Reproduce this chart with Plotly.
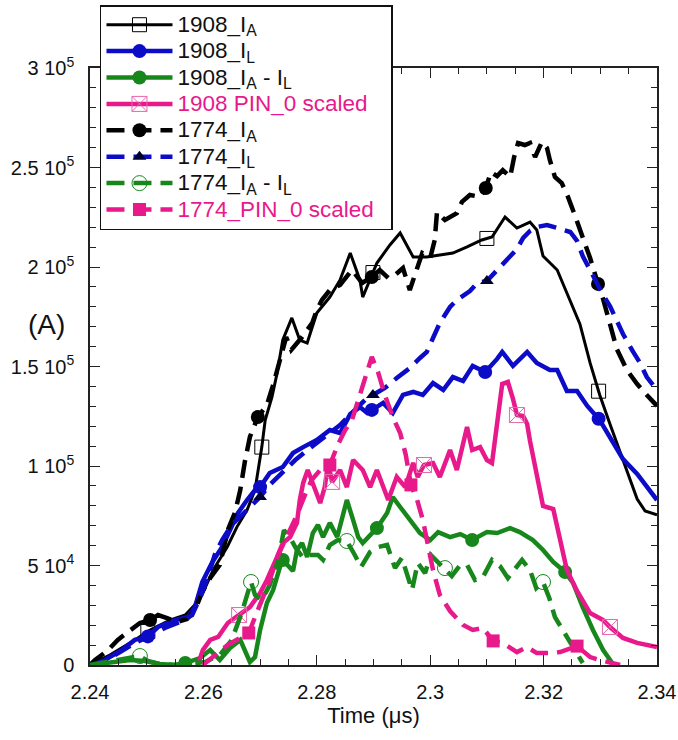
import numpy as np
import plotly.graph_objects as go

# ---------------- data (time in microseconds, current in kA) ----------------
t_ia_1908 = [2.2400, 2.2435, 2.2471, 2.2506, 2.2541, 2.2568, 2.2585, 2.2599, 2.2617, 2.2642,
             2.2659, 2.2677, 2.2691, 2.2696, 2.2703, 2.2709, 2.2721, 2.2730, 2.2740, 2.2756,
             2.2770, 2.2783, 2.2800, 2.2823, 2.2841, 2.2859, 2.2876, 2.2881, 2.2906, 2.2929,
             2.2947, 2.2970, 2.2994, 2.3017, 2.3040, 2.3065, 2.3091, 2.3109, 2.3132, 2.3153,
             2.3176, 2.3188, 2.3199, 2.3224, 2.3247, 2.3264, 2.3282, 2.3299, 2.3317, 2.3340,
             2.3365, 2.3379, 2.3400]
ia_1908 = [0, 5.0, 11.1, 17.6, 22.6, 25.1, 30.2, 36.2, 47.7, 59.3,
           69.3, 77.9, 87.9, 96.5, 109.5, 123.1, 134.7, 146.7, 163.3, 174.4,
           163.3, 161.8, 176.9, 184.9, 193.5, 207.0, 193.5, 184.9, 202.0, 211.1,
           217.1, 205.0, 205.0, 206.0, 207.0, 210.1, 213.6, 215.1, 225.1, 219.6,
           222.6, 218.6, 205.5, 198.5, 182.4, 171.4, 151.8, 135.7, 121.1, 103.5,
           83.4, 77.4, 75.4]

t_il_1908 = [2.2400, 2.2426, 2.2456, 2.2479, 2.2501, 2.2520, 2.2550, 2.2573, 2.2585, 2.2598,
             2.2615, 2.2633, 2.2647, 2.2661, 2.2677, 2.2691, 2.2700, 2.2717, 2.2740, 2.2758,
             2.2776, 2.2800, 2.2823, 2.2841, 2.2859, 2.2876, 2.2889, 2.2899, 2.2917, 2.2934,
             2.2952, 2.2970, 2.2987, 2.3005, 2.3023, 2.3040, 2.3058, 2.3075, 2.3097, 2.3118,
             2.3127, 2.3146, 2.3171, 2.3188, 2.3211, 2.3224, 2.3241, 2.3259, 2.3277, 2.3299,
             2.3321, 2.3340, 2.3365, 2.3400]
il_1908 = [0, 2.5, 7.5, 12.6, 14.1, 19.1, 22.6, 24.1, 29.1, 41.7,
           51.3, 59.3, 67.8, 76.4, 82.9, 87.9, 89.4, 96.5, 99.5, 106.5,
           109.5, 113.1, 118.1, 116.6, 126.1, 129.6, 126.6, 128.6, 131.7, 126.6,
           135.7, 137.2, 135.7, 141.7, 138.2, 144.7, 142.7, 150.3, 147.2, 153.8,
           157.3, 150.3, 157.3, 151.8, 148.2, 148.2, 137.7, 137.7, 130.2, 123.1,
           112.6, 103.5, 96.0, 82.9]

t_diff_1908 = [2.2400, 2.2435, 2.2471, 2.2497, 2.2523, 2.2550, 2.2568, 2.2594, 2.2612, 2.2629,
               2.2647, 2.2665, 2.2682, 2.2691, 2.2700, 2.2712, 2.2723, 2.2735, 2.2740, 2.2758,
               2.2765, 2.2774, 2.2783, 2.2793, 2.2802, 2.2811, 2.2823, 2.2836, 2.2853, 2.2864,
               2.2873, 2.2881, 2.2894, 2.2906, 2.2924, 2.2934, 2.2947, 2.2964, 2.2982, 2.3000,
               2.3014, 2.3035, 2.3053, 2.3074, 2.3100, 2.3118, 2.3141, 2.3158, 2.3181, 2.3199,
               2.3217, 2.3238, 2.3252, 2.3269, 2.3287, 2.3305, 2.3321]
diff_1908 = [0, 1.0, 2.5, 2.0, 0.5, 0, 1.0, 3.5, 7.5, 2.5,
             8.5, 12.6, 1.5, 4.0, 17.6, 31.2, 37.7, 49.2, 52.8, 47.2,
             57.8, 61.3, 54.3, 66.3, 70.4, 64.3, 71.4, 64.3, 82.9, 72.9,
             64.3, 61.3, 65.3, 68.8, 76.4, 84.4, 79.4, 72.9, 66.3, 62.8,
             66.8, 64.3, 65.8, 62.8, 66.8, 66.3, 68.8, 66.8, 62.8, 57.8,
             51.8, 46.7, 41.2, 29.1, 17.6, 7.5, 1.0]

t_pin_1908 = [2.2590, 2.2599, 2.2612, 2.2626, 2.2643, 2.2663, 2.2682, 2.2700, 2.2712, 2.2730,
              2.2740, 2.2753, 2.2765, 2.2770, 2.2776, 2.2784, 2.2797, 2.2806, 2.2814, 2.2820,
              2.2827, 2.2841, 2.2853, 2.2864, 2.2881, 2.2894, 2.2906, 2.2917, 2.2926, 2.2941,
              2.2956, 2.2970, 2.2978, 2.2989, 2.3005, 2.3017, 2.3035, 2.3047, 2.3065, 2.3074,
              2.3088, 2.3100, 2.3109, 2.3127, 2.3137, 2.3146, 2.3153, 2.3164, 2.3171, 2.3176,
              2.3188, 2.3199, 2.3217, 2.3229, 2.3241, 2.3259, 2.3282, 2.3305, 2.3317, 2.3340,
              2.3365, 2.3400]
pin_1908 = [0, 7.5, 12.6, 14.1, 21.1, 25.1, 29.1, 36.2, 42.7, 54.3,
            61.3, 64.3, 71.4, 82.9, 91.5, 98.0, 87.9, 81.4, 89.4, 101.5,
            92.0, 98.0, 89.4, 103.0, 98.0, 89.4, 98.0, 89.4, 82.9, 94.5,
            89.4, 101.5, 94.5, 100.5, 101.5, 94.5, 108.0, 98.0, 119.6, 108.0,
            109.5, 103.0, 101.5, 141.2, 142.2, 133.7, 125.6, 125.1, 121.1, 112.6,
            94.5, 79.9, 78.4, 63.8, 47.7, 37.2, 26.1, 22.6, 19.1, 13.6,
            11.1, 9.0]

t_ia_1774 = [2.2400, 2.2409, 2.2432, 2.2449, 2.2467, 2.2488, 2.2506, 2.2520, 2.2536, 2.2553,
             2.2571, 2.2585, 2.2598, 2.2612, 2.2629, 2.2643, 2.2656, 2.2665, 2.2673, 2.2682,
             2.2696, 2.2712, 2.2723, 2.2735, 2.2746, 2.2755, 2.2763, 2.2774, 2.2792, 2.2800,
             2.2809, 2.2823, 2.2841, 2.2862, 2.2880, 2.2897, 2.2911, 2.2926, 2.2938, 2.2952,
             2.2964, 2.2977, 2.2986, 2.3000, 2.3008, 2.3012, 2.3026, 2.3047, 2.3056, 2.3070,
             2.3088, 2.3098, 2.3107, 2.3118, 2.3128, 2.3141, 2.3148, 2.3155, 2.3167, 2.3176,
             2.3185, 2.3197, 2.3206, 2.3211, 2.3220, 2.3232, 2.3243, 2.3255, 2.3269, 2.3282,
             2.3296, 2.3305, 2.3317, 2.3329, 2.3347, 2.3365, 2.3382, 2.3400]
ia_1774 = [0, 2.5, 7.5, 12.6, 16.6, 21.1, 22.6, 25.1, 23.6, 21.6,
           23.1, 27.6, 36.7, 43.7, 50.3, 67.8, 76.9, 87.9, 102.0, 114.6,
           124.6, 130.7, 140.7, 153.3, 164.8, 158.3, 160.8, 164.8, 171.9, 178.4,
           183.4, 188.4, 191.0, 198.5, 192.0, 195.0, 198.5, 194.5, 196.0, 199.5,
           188.4, 200.0, 207.0, 204.5, 213.6, 227.6, 223.6, 227.1, 232.7, 236.2,
           235.2, 239.7, 247.7, 245.7, 248.7, 245.2, 255.3, 262.3, 261.3, 262.3,
           255.3, 262.8, 259.8, 253.8, 245.2, 242.2, 235.2, 226.1, 215.1, 204.5,
           191.5, 183.9, 171.4, 158.8, 148.2, 141.2, 135.7, 130.2]

t_il_1774 = [2.2400, 2.2426, 2.2453, 2.2479, 2.2506, 2.2532, 2.2559, 2.2580, 2.2594, 2.2608,
             2.2620, 2.2633, 2.2650, 2.2668, 2.2686, 2.2700, 2.2717, 2.2740, 2.2762, 2.2788,
             2.2814, 2.2841, 2.2867, 2.2885, 2.2899, 2.2920, 2.2941, 2.2964, 2.2982, 2.2994,
             2.3005, 2.3017, 2.3035, 2.3047, 2.3070, 2.3083, 2.3100, 2.3118, 2.3128, 2.3141,
             2.3153, 2.3164, 2.3176, 2.3188, 2.3206, 2.3224, 2.3247, 2.3259, 2.3269, 2.3282,
             2.3294, 2.3305, 2.3317, 2.3329, 2.3340, 2.3358, 2.3370, 2.3382, 2.3400]
il_1774 = [0, 2.0, 6.5, 11.1, 14.6, 18.6, 21.6, 25.1, 33.7, 44.2,
           55.3, 62.8, 70.4, 75.4, 80.4, 84.4, 90.5, 97.0, 103.0, 109.0,
           114.6, 120.6, 128.1, 133.2, 135.7, 139.2, 144.2, 149.2, 154.3, 157.3,
           164.3, 171.9, 179.9, 183.4, 187.9, 192.0, 193.0, 198.5, 202.0, 205.5,
           209.0, 214.6, 218.1, 220.1, 221.1, 219.6, 217.6, 213.1, 205.5, 198.5,
           191.5, 185.9, 180.4, 173.4, 166.3, 157.3, 151.8, 144.7, 138.2]

t_diff_1774 = [2.2400, 2.2426, 2.2453, 2.2474, 2.2488, 2.2502, 2.2523, 2.2550, 2.2576, 2.2603,
               2.2629, 2.2650, 2.2668, 2.2684, 2.2691, 2.2703, 2.2717, 2.2732, 2.2742, 2.2753,
               2.2763, 2.2776, 2.2788, 2.2802, 2.2811, 2.2823, 2.2837, 2.2853, 2.2867, 2.2878,
               2.2894, 2.2908, 2.2924, 2.2938, 2.2950, 2.2961, 2.2968, 2.2978, 2.2991, 2.3001,
               2.3014, 2.3026, 2.3038, 2.3053, 2.3065, 2.3079, 2.3093, 2.3109, 2.3123, 2.3137,
               2.3148, 2.3162, 2.3176, 2.3187, 2.3199, 2.3210, 2.3220, 2.3232, 2.3245, 2.3259,
               2.3269]
diff_1774 = [0, 1.5, 2.5, 4.0, 4.5, 2.0, 0.5, 0, 0.5, 1.5,
             5.0, 12.6, 26.6, 41.7, 35.2, 32.7, 40.2, 52.8, 67.8, 63.8,
             58.8, 53.8, 55.3, 55.3, 52.8, 60.3, 62.8, 62.3, 55.3, 49.2,
             56.8, 59.3, 60.3, 48.7, 53.8, 43.7, 37.7, 51.3, 46.2, 55.3,
             51.8, 48.7, 44.7, 50.3, 50.3, 42.7, 44.2, 52.8, 49.7, 43.7,
             47.7, 52.8, 47.7, 38.7, 41.7, 33.7, 24.1, 18.6, 12.6, 5.5,
             1.0]

t_pin_1774 = [2.2599, 2.2620, 2.2643, 2.2665, 2.2680, 2.2696, 2.2714, 2.2732, 2.2749, 2.2765,
              2.2779, 2.2791, 2.2806, 2.2823, 2.2837, 2.2850, 2.2862, 2.2876, 2.2887, 2.2897,
              2.2908, 2.2920, 2.2934, 2.2947, 2.2957, 2.2966, 2.2977, 2.2987, 2.2996, 2.3005,
              2.3017, 2.3035, 2.3058, 2.3075, 2.3093, 2.3111, 2.3128, 2.3153, 2.3171, 2.3188,
              2.3211, 2.3229, 2.3259, 2.3282, 2.3299, 2.3322, 2.3335]
pin_1774 = [0, 5.0, 10.1, 13.6, 16.1, 27.6, 40.2, 55.3, 65.3, 75.4,
            85.4, 93.0, 98.0, 100.5, 110.6, 118.1, 123.1, 135.7, 145.7, 154.8,
            147.2, 135.7, 124.6, 116.6, 105.5, 90.5, 82.9, 72.9, 60.3, 47.7,
            35.2, 27.1, 20.1, 17.6, 18.6, 12.1, 11.1, 6.5, 9.0, 6.0,
            6.0, 6.5, 9.5, 4.0, 2.5, 1.0, 0]

# times at which symbols sit on each curve
marks_ia_1908 = [2.2502, 2.2703, 2.2899, 2.3100, 2.3297]
marks_il_1908 = [2.2502, 2.2700, 2.2897, 2.3097, 2.3297]
marks_diff_1908 = [2.2568, 2.2740, 2.2906, 2.3074, 2.3238]
marks_pin_1908 = [2.2663, 2.2827, 2.2989, 2.3153, 2.3317]
marks_ia_1774 = [2.2506, 2.2696, 2.2897, 2.3098, 2.3296]
marks_il_1774 = [2.2700, 2.2899, 2.3100]
marks_diff_1774 = [2.2488, 2.2684, 2.2853, 2.3026, 2.3199]
marks_pin_1774 = [2.2680, 2.2823, 2.2966, 2.3111, 2.3259]

x_ticks = [2.24, 2.26, 2.28, 2.30, 2.32, 2.34]
x_ticktext = ["2.24", "2.26", "2.28", "2.3", "2.32", "2.34"]
y_ticks = [0, 5e4, 1e5, 1.5e5, 2e5, 2.5e5, 3e5]
y_ticktext = ["0", "5 10<sup>4</sup>", "1 10<sup>5</sup>", "1.5 10<sup>5</sup>",
              "2 10<sup>5</sup>", "2.5 10<sup>5</sup>", "3 10<sup>5</sup>"]

# ---------------- styling ----------------
BLACK = "#000000"
BLUE = "#0c0cc8"
GREEN = "#17871c"
PINK = "#e8198b"
FONT = "Liberation Sans, Arial, Helvetica, sans-serif"
DASH = "18px,9px"


def label(text, color="#111"):
    # larger glyphs than the legend's row pitch so entries stay tightly packed
    return '<span style="font-size:22.5px;color:%s">%s</span>' % (color, text)


series = [
    dict(name=label("1908_I<sub>A</sub>"), t=t_ia_1908, y=ia_1908, marks=marks_ia_1908,
         color=BLACK, width=3.0, dash="solid",
         marker=dict(symbol="square-open", size=14, color=BLACK, line=dict(width=1, color=BLACK))),
    dict(name=label("1908_I<sub>L</sub>"), t=t_il_1908, y=il_1908, marks=marks_il_1908,
         color=BLUE, width=4.5, dash="solid",
         marker=dict(symbol="circle", size=14, color=BLUE)),
    dict(name=label("1908_I<sub>A</sub> - I<sub>L</sub>"), t=t_diff_1908, y=diff_1908,
         marks=marks_diff_1908, color=GREEN, width=4.5, dash="solid",
         marker=dict(symbol="circle", size=14, color=GREEN)),
    dict(name=label("1908 PIN_0 scaled&nbsp;&nbsp;", PINK), t=t_pin_1908, y=pin_1908,
         marks=marks_pin_1908, color=PINK, width=4.5, dash="solid",
         marker=dict(symbol="square-x-open", size=15, color="#e46aae", line=dict(width=1, color="#e46aae"))),
    dict(name=label("1774_I<sub>A</sub>"), t=t_ia_1774, y=ia_1774, marks=marks_ia_1774,
         color=BLACK, width=4.5, dash=DASH,
         marker=dict(symbol="circle", size=14, color=BLACK)),
    dict(name=label("1774_I<sub>L</sub>"), t=t_il_1774, y=il_1774, marks=marks_il_1774,
         color=BLUE, width=4.5, dash=DASH,
         marker=dict(symbol="triangle-up", size=12, color="#000030")),
    dict(name=label("1774_I<sub>A</sub> - I<sub>L</sub>"), t=t_diff_1774, y=diff_1774,
         marks=marks_diff_1774, color=GREEN, width=4.5, dash=DASH,
         marker=dict(symbol="circle-open", size=15, color=GREEN, line=dict(width=1, color=GREEN))),
    dict(name=label("1774_PIN_0 scaled&nbsp;&nbsp;", PINK), t=t_pin_1774, y=pin_1774,
         marks=marks_pin_1774, color=PINK, width=4.5, dash=DASH,
         marker=dict(symbol="square", size=13, color=PINK)),
]

fig = go.Figure()
for s in series:
    t = np.array(s["t"])
    y = np.array(s["y"]) * 1e3
    mt = np.array(s["marks"])
    my = np.interp(mt, t, y)
    line = dict(color=s["color"], width=s["width"], dash=s["dash"])
    fig.add_trace(go.Scatter(x=t, y=y, mode="lines", line=line, showlegend=False,
                             hoverinfo="skip"))
    fig.add_trace(go.Scatter(x=mt, y=my, mode="markers", marker=s["marker"],
                             showlegend=False, hoverinfo="skip"))
    fig.add_trace(go.Scatter(x=[None], y=[None], mode="lines+markers", name=s["name"],
                             line=line, marker=s["marker"]))

axis_common = dict(
    showline=True, linecolor="#222", linewidth=1.5, mirror="ticks",
    ticks="inside", ticklen=10, tickwidth=1.2, tickcolor="#222",
    showgrid=False, zeroline=False, automargin=False,
    tickfont=dict(family=FONT, size=20, color="#111"),
)

fig.update_xaxes(
    range=[2.24, 2.34], tickmode="array", tickvals=x_ticks, ticktext=x_ticktext,
    minor=dict(tickmode="linear", tick0=2.24, dtick=0.005, ticks="inside", ticklen=6,
               tickcolor="#222", tickwidth=1.2),
    title=dict(text="Time (\u03bcs)", font=dict(family=FONT, size=22, color="#111"), standoff=4),
    ticklabelstandoff=8,
    **axis_common,
)
fig.update_yaxes(
    range=[0, 3e5], tickmode="array", tickvals=y_ticks, ticktext=y_ticktext,
    minor=dict(tickmode="linear", tick0=0, dtick=1e4, ticks="inside", ticklen=6,
               tickcolor="#222", tickwidth=1.2),
    ticklabelstandoff=10,
    **axis_common,
)

fig.add_annotation(text="(A)", xref="paper", yref="paper", x=-0.076, y=0.57,
                   xanchor="center", showarrow=False,
                   font=dict(family=FONT, size=28, color="#111"))

fig.update_layout(
    width=678, height=740,
    margin=dict(l=90, r=21, t=68, b=75, autoexpand=False),
    paper_bgcolor="white", plot_bgcolor="white",
    font=dict(family=FONT, color="#111"),
    legend=dict(
        x=0.0176, y=1.1055, xanchor="left", yanchor="top",
        bgcolor="white", bordercolor="#111", borderwidth=1.5,
        font=dict(family=FONT, size=18, color="#111"),
        itemwidth=66, tracegroupgap=0,
    ),
)

fig.write_html("out.html")
